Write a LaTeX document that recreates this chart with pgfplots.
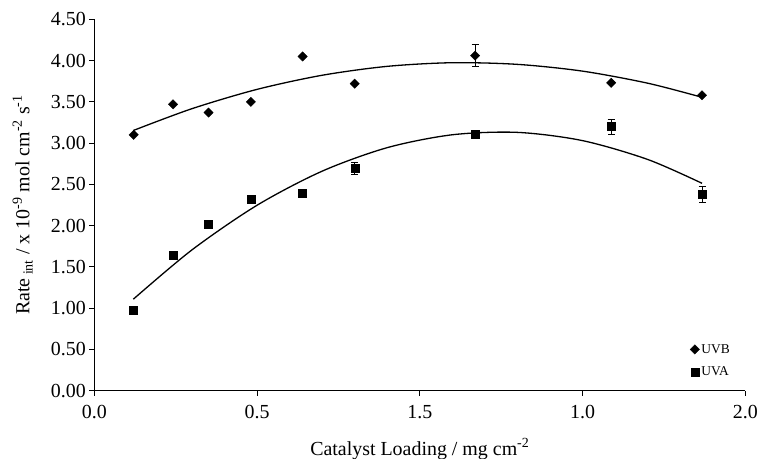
\documentclass[border=0pt]{standalone}
\usepackage{pgfplots}
\pgfplotsset{compat=1.18}
\usepackage{fontspec}
\setmainfont{Liberation Serif}

\begin{document}
\begin{tikzpicture}
\begin{axis}[
    scale only axis,
    width=651bp, height=371.4bp,
    xmin=0, xmax=2, ymin=0, ymax=4.5,
    axis x line*=bottom, axis y line*=left,
    axis line style={-, black, line width=1bp},
    xtick={0,0.5,1,1.5,2},
    xticklabels={0.0,0.5,1.5,1.0,2.0},
    ytick={0,0.5,...,4.5},
    yticklabel style={/pgf/number format/.cd, fixed, fixed zerofill, precision=2},
    xticklabel style={yshift=-6bp},
    /pgf/number format/assume math mode=true,
    tick align=outside,
    major tick length=5bp,
    tick style={black, line width=1bp},
    tick label style={font=\fontsize{20}{24}\selectfont},
    label style={font=\fontsize{20}{24}\selectfont},
    xlabel={Catalyst Loading / mg cm\textsuperscript{-2}},
    xlabel style={yshift=-13bp},
    ylabel={Rate\textsubscript{ int} / x 10\textsuperscript{-9} mol cm\textsuperscript{-2} s\textsuperscript{-1}},
    ylabel style={at={(axis description cs:-0.11,0.5)}, anchor=center},
    legend style={draw=none, fill=none, font=\fontsize{13.5}{15}\selectfont,
        at={(axis description cs:0.915,0.131)}, anchor=north west,
        row sep=8bp, inner sep=0pt},
    legend cell align=left,
    clip=false,
]
\coordinate (ll) at (rel axis cs:0,0);

% quadratic trend lines
\addplot[black, line width=1.3bp, smooth, forget plot] coordinates {
    (0.12,3.153) (0.3,3.417) (0.5,3.651) (0.7,3.822) (0.9,3.930)
    (1.1,3.974) (1.3,3.954) (1.5,3.872) (1.7,3.726) (1.867,3.555)
};
\addplot[black, line width=1.3bp, smooth, forget plot] coordinates {
    (0.12,1.109) (0.3,1.706) (0.5,2.247) (0.7,2.660) (0.9,2.945)
    (1.1,3.101) (1.3,3.130) (1.5,3.030) (1.7,2.802) (1.867,2.513)
};

\addplot[black, only marks, mark=square*, mark size=3.3bp,
    mark options={rotate=45, fill=black},
    error bars/.cd, y dir=both, y explicit,
    error bar style={line width=1bp},
    error mark options={rotate=90, mark size=3.5bp, line width=1bp}]
coordinates {
    (0.121,3.10) +- (0,0)
    (0.242,3.47) +- (0,0)
    (0.351,3.37) +- (0,0)
    (0.481,3.50) +- (0,0)
    (0.640,4.05) +- (0,0)
    (0.800,3.72) +- (0,0)
    (1.170,4.06) +- (0,0.13)
    (1.588,3.73) +- (0,0)
    (1.867,3.58) +- (0,0)
};
\addlegendentry{UVB}

\addplot[black, only marks, mark=square*, mark size=4bp,
    mark options={fill=black},
    error bars/.cd, y dir=both, y explicit,
    error bar style={line width=1bp},
    error mark options={rotate=90, mark size=3.5bp, line width=1bp}]
coordinates {
    (0.121,0.98) +- (0,0)
    (0.242,1.64) +- (0,0)
    (0.351,2.02) +- (0,0)
    (0.481,2.32) +- (0,0)
    (0.640,2.39) +- (0,0)
    (0.800,2.69) +- (0,0.07)
    (1.170,3.11) +- (0,0)
    (1.588,3.20) +- (0,0.09)
    (1.867,2.38) +- (0,0.095)
};
\addlegendentry{UVA}
\end{axis}
\pgfresetboundingbox
\path[use as bounding box] ([shift={(-94.3bp,-68.3bp)}]ll) rectangle ([shift={(667.7bp,390.7bp)}]ll);
\end{tikzpicture}
\end{document}
